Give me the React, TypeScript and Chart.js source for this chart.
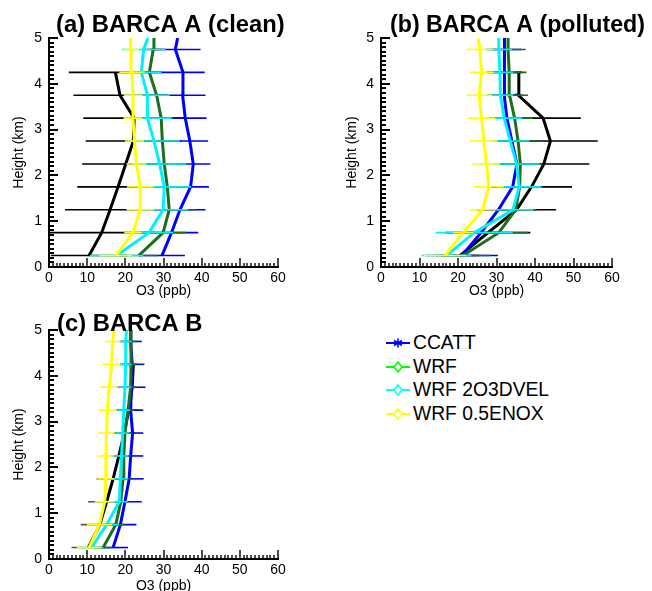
import React, { useEffect, useRef } from 'react';
import { Chart, registerables } from 'chart.js';

Chart.register(...registerables);

// ---------- data ----------
const heights = [0.25, 0.75, 1.25, 1.75, 2.25, 2.75, 3.25, 3.75, 4.25, 4.75, 5.0];
const xTickValues = [0, 10, 20, 30, 40, 50, 60];
const yTickValues = [0, 1, 2, 3, 4, 5];

const seriesNames = ['Obs', 'CCATT', 'WRF', 'WRF 2O3DVEL', 'WRF 0.5ENOX'];
const lineColors = ['#000000', '#0000ff', '#1d6f1d', '#00f0ff', '#ffff00'];
const legendColors = ['#0000ff', '#00ff00', '#00ffff', '#ffff00'];
const legendMarkers = ['star', 'diamond', 'diamond', 'diamond'];

// (a) BARCA A (clean)
const obsA = [10.5, 13.8, 16.0, 18.1, 20.1, 22.1, 22.3, 18.6, 17.4, null, null];
const obsAErr = [10, 14, 11.8, 10.7, 11.4, 12.5, 13.3, 12.2, 12.2, null, null];
const ccattA = [29.6, 32.1, 34.3, 37.1, 37.8, 36.9, 35.7, 35.0, 35.1, 33.1, 33.7];
const ccattAErr = [6, 7, 6.7, 4.8, 4.5, 4.8, 5.6, 6, 5.7, 6.6, null];
const wrfA = [23.5, 29.9, 31.5, 31.0, 30.2, 29.7, 29.4, 28.2, 26.3, 27.3, 27.5];
const wrfAErr = [5, 6.1, 6.7, 5.5, 5, 4.5, 3.1, 3, 3, 3, null];
const dvelA = [17.7, 26.2, 29.9, 30.2, 29.0, 27.5, 25.8, 25.8, 24.2, 24.8, 25.9];
const dvelAErr = [7, 6.3, 6.5, 7, 7, 6.8, 6.3, 5.8, 5.3, 5.7, null];
const enoxA = [17.5, 22.0, 23.9, 23.9, 22.9, 22.4, 22.0, 22.0, 21.7, 21.5, 21.3];
const enoxAErr = [4.3, 2.3, 3.6, 3.5, 2.6, 2.5, 2.4, 2.4, 3.3, 2.1, null];

// (b) BARCA A (polluted)
const obsB = [20.5, 27.8, 35.2, 39.1, 42.3, 44.0, 42.1, 35.7, 35.8, null, null];
const obsBErr = [5, 11, 10.3, 10.5, 11.8, 12.3, 9.8, 1, 1, null, null];
const ccattB = [21.0, 26.0, 30.5, 34.2, 35.3, 34.0, 32.7, 32.0, 32.0, 32.0, 32.2];
const ccattBErr = [9.4, 5, 4.5, 4.5, 4.5, 4.5, 4.5, 4.5, 4.5, 4.5, null];
const wrfB = [21.3, 30.6, 35.0, 36.0, 36.2, 35.6, 34.7, 33.4, 33.3, 33.0, 33.0];
const wrfBErr = [7, 7.6, 5.4, 5.5, 5.5, 5.2, 4.8, 4.8, 4.5, 4.6, null];
const dvelB = [17.0, 24.2, 34.3, 35.9, 35.2, 33.6, 32.0, 31.0, 30.9, 30.6, 30.6];
const dvelBErr = [6.5, 10, 5.2, 5.8, 6, 5, 4.7, 3.3, 3.4, 3.5, null];
const enoxB = [16.6, 21.3, 26.4, 28.0, 27.4, 26.7, 26.1, 25.5, 26.1, 25.7, 25.2];
const enoxBErr = [5.5, 2.6, 3.3, 3.9, 3.6, 3.6, 3.5, 3.3, 3.2, 3.5, null];

// (c) BARCA B
const obsC = [10.3, 13.3, 15.1, 16.8, 18.3, 19.7, 20.9, 21.8, 22.1, null, null];
const obsCErr = [4.4, 5, 4.9, 4.3, 2, 2.9, 3.2, 1, 1, null, null];
const ccattC = [16.8, 18.7, 19.9, 21.0, 21.4, 21.9, 21.4, 21.6, 21.8, 21.4, 21.4];
const ccattCErr = [3.9, 4.2, 4.4, 3.8, 3.3, 2.8, 3.3, 3.7, 3.2, 2.9, null];
const wrfC = [14.2, 17.5, 18.8, 19.4, 19.6, 19.9, 20.7, 21.4, 21.5, 21.5, 21.5];
const wrfCErr = [2.5, 2.5, 2, 2, 1.8, 1.8, 1.6, 1.6, 1.5, 1.5, null];
const dvelC = [11.2, 15.1, 18.4, 18.7, 19.0, 19.3, 19.6, 19.9, 20.1, 20.1, 20.3];
const dvelCErr = [3, 3.2, 2.2, 2, 1.8, 1.8, 1.6, 1.6, 1.5, 1.5, null];
const enoxC = [10.5, 13.2, 14.6, 14.9, 14.9, 15.1, 15.3, 15.8, 16.4, 16.7, 17.0];
const enoxCErr = [3.2, 3.3, 2.6, 2.2, 2.2, 2.2, 2.3, 2.4, 2.3, 2.0, null];

const FONT = '"Liberation Sans", Arial, Helvetica, sans-serif';

// ---------- plugins ----------
const errorBarPlugin = {
  id: 'errorBars',
  afterDatasetDraw(chart: any, args: any) {
    const ds: any = chart.data.datasets[args.index];
    if (!ds.errors) return;
    const { ctx, chartArea: a } = chart;
    const xs = chart.scales.x;
    const ys = chart.scales.y;
    ctx.save();
    ctx.beginPath();
    ctx.rect(a.left, a.top - 2, a.right - a.left, a.bottom - a.top + 4);
    ctx.clip();
    ctx.strokeStyle = ds.errorColor || ds.borderColor;
    ctx.lineWidth = 1.6;
    ds.data.forEach((p: any, i: number) => {
      const e = ds.errors[i];
      if (e == null) return;
      const y = ys.getPixelForValue(p.y);
      ctx.beginPath();
      ctx.moveTo(xs.getPixelForValue(p.x - e), y);
      ctx.lineTo(xs.getPixelForValue(p.x + e), y);
      ctx.stroke();
    });
    ctx.restore();
  },
};

const axisRulerPlugin = {
  id: 'axisRuler',
  afterDatasetsDraw(chart: any) {
    const { ctx, chartArea: a } = chart;
    const xs = chart.scales.x;
    const ys = chart.scales.y;
    ctx.save();
    ctx.fillStyle = '#000000';
    for (let i = 0; i <= 60; i++) {
      const px = Math.round(xs.getPixelForValue(i));
      const len = i % 10 === 0 ? 9 : 4;
      ctx.fillRect(px - 0.7, a.bottom - len, 1.4, len);
    }
    for (let j = 0; j <= 50; j++) {
      const py = Math.round(ys.getPixelForValue(j / 10));
      const len = j % 10 === 0 ? 9 : 5;
      ctx.fillRect(a.left - 1, py - 1, len + 1, 2);
    }
    ctx.restore();
  },
};

const panelTitlePlugin = {
  id: 'panelTitle',
  afterDraw(chart: any, _args: any, opts: any) {
    if (!opts || !opts.text) return;
    const { ctx, chartArea: a } = chart;
    ctx.save();
    ctx.font = `bold ${opts.size}px ${FONT}`;
    ctx.fillStyle = '#000';
    ctx.textAlign = 'left';
    ctx.textBaseline = 'alphabetic';
    ctx.fillText(opts.text, a.left + opts.dx, a.top + opts.dy);
    ctx.restore();
  },
};

function makeDataset(
  idx: number,
  values: (number | null)[],
  errs: (number | null)[],
  obsErrColor: string
) {
  const data: { x: number; y: number }[] = [];
  const errors: (number | null)[] = [];
  values.forEach((v, i) => {
    if (v == null) return;
    data.push({ x: v, y: heights[i] });
    errors.push(errs[i]);
  });
  return {
    label: seriesNames[idx],
    data,
    errors,
    errorColor: idx === 0 ? obsErrColor : lineColors[idx],
    borderColor: lineColors[idx],
    backgroundColor: lineColors[idx],
    borderWidth: 3,
    showLine: true,
    pointRadius: 0,
    tension: 0,
    order: 5 - idx,
  };
}

type PanelProps = {
  left: number;
  top: number;
  width: number;
  height: number;
  padTop: number;
  padRight: number;
  yWidth: number;
  xHeight: number;
  yTitlePad: number;
  xTitlePad: number;
  title: string;
  titleSize: number;
  titleDx: number;
  titleDy: number;
  obsErrColor: string;
  series: [(number | null)[], (number | null)[]][];
};

function Panel(p: PanelProps) {
  const ref = useRef<HTMLCanvasElement>(null);
  useEffect(() => {
    const tickFont = { family: FONT, size: 14 };
    const chart = new Chart(ref.current as HTMLCanvasElement, {
      type: 'scatter',
      data: {
        datasets: p.series.map(([v, e], i) => makeDataset(i, v, e, p.obsErrColor)) as any,
      },
      options: {
        animation: false,
        responsive: false,
        events: [],
        layout: { padding: { top: p.padTop, left: 0, right: p.padRight, bottom: 0 } },
        plugins: {
          legend: { display: false },
          tooltip: { enabled: false },
          panelTitle: { text: p.title, size: p.titleSize, dx: p.titleDx, dy: p.titleDy },
        } as any,
        scales: {
          x: {
            type: 'linear',
            min: 0,
            max: 60,
            afterFit: (s: any) => {
              s.height = p.xHeight;
            },
            afterBuildTicks: (s: any) => {
              s.ticks = xTickValues.map((v) => ({ value: v }));
            },
            ticks: { font: tickFont, color: '#000', padding: 3, maxRotation: 0, autoSkip: false },
            grid: { display: false, drawTicks: false },
            border: { display: true, color: '#000', width: 2 },
            title: {
              display: true,
              text: 'O3 (ppb)',
              font: tickFont,
              color: '#000',
              padding: { top: 0, bottom: p.xTitlePad },
            },
          },
          y: {
            type: 'linear',
            min: 0,
            max: 5,
            afterFit: (s: any) => {
              s.width = p.yWidth;
            },
            afterBuildTicks: (s: any) => {
              s.ticks = yTickValues.map((v) => ({ value: v }));
            },
            ticks: { font: tickFont, color: '#000', padding: 7, autoSkip: false },
            grid: { display: false, drawTicks: false },
            border: { display: true, color: '#000', width: 2 },
            title: {
              display: true,
              text: 'Height (km)',
              font: tickFont,
              color: '#000',
              padding: { top: p.yTitlePad, bottom: 0 },
            },
          },
        } as any,
      },
      plugins: [errorBarPlugin, axisRulerPlugin, panelTitlePlugin],
    });
    return () => chart.destroy();
  }, []);
  return (
    <canvas
      ref={ref}
      width={p.width}
      height={p.height}
      style={{ position: 'absolute', left: p.left, top: p.top, width: p.width, height: p.height }}
    />
  );
}

function Marker({ kind, color }: { kind: string; color: string }) {
  return (
    <svg width={24} height={14} style={{ display: 'block' }}>
      <line x1={0} y1={7} x2={24} y2={7} stroke={color} strokeWidth={2} />
      {kind === 'star' ? (
        <g stroke={color} strokeWidth={1.6}>
          <line x1={12} y1={2.5} x2={12} y2={11.5} />
          <line x1={8} y1={4.5} x2={16} y2={9.5} />
          <line x1={8} y1={9.5} x2={16} y2={4.5} />
        </g>
      ) : (
        <polygon points="12,2 16,7 12,12 8,7" fill="#fff" stroke={color} strokeWidth={1.6} />
      )}
    </svg>
  );
}

function Legend() {
  return (
    <div>
      {seriesNames.slice(1).map((name, i) => (
        <div
          key={name}
          style={{
            position: 'absolute',
            left: 386,
            top: 343 + i * 23.7 - 12,
            height: 24,
            display: 'flex',
            alignItems: 'center',
            fontFamily: FONT,
            fontSize: 19.3,
            color: '#000',
            whiteSpace: 'nowrap',
          }}
        >
          <Marker kind={legendMarkers[i]} color={legendColors[i]} />
          <span style={{ marginLeft: 3, lineHeight: '24px' }}>{name}</span>
        </div>
      ))}
    </div>
  );
}

export default function App() {
  return (
    <div
      style={{
        position: 'fixed',
        left: 0,
        top: 0,
        width: 652,
        height: 591,
        overflow: 'hidden',
        background: '#fff',
      }}
    >
      <Panel
        left={0}
        top={0}
        width={326}
        height={300}
        padTop={38}
        padRight={48}
        yWidth={49}
        xHeight={33}
        yTitlePad={10.5}
        xTitlePad={0}
        title="(a) BARCA A (clean)"
        titleSize={23.8}
        titleDx={7}
        titleDy={-6}
        obsErrColor="#000000"
        series={[
          [obsA, obsAErr],
          [ccattA, ccattAErr],
          [wrfA, wrfAErr],
          [dvelA, dvelAErr],
          [enoxA, enoxAErr],
        ]}
      />
      <Panel
        left={326}
        top={0}
        width={326}
        height={300}
        padTop={38}
        padRight={40}
        yWidth={55}
        xHeight={33}
        yTitlePad={18}
        xTitlePad={0}
        title="(b) BARCA A (polluted)"
        titleSize={23.2}
        titleDx={9}
        titleDy={-6}
        obsErrColor="#000000"
        series={[
          [obsB, obsBErr],
          [ccattB, ccattBErr],
          [wrfB, wrfBErr],
          [dvelB, dvelBErr],
          [enoxB, enoxBErr],
        ]}
      />
      <Panel
        left={0}
        top={295}
        width={326}
        height={305}
        padTop={35}
        padRight={48}
        yWidth={49}
        xHeight={41}
        yTitlePad={10.5}
        xTitlePad={5.5}
        title="(c) BARCA B"
        titleSize={23.8}
        titleDx={8}
        titleDy={1}
        obsErrColor="#555555"
        series={[
          [obsC, obsCErr],
          [ccattC, ccattCErr],
          [wrfC, wrfCErr],
          [dvelC, dvelCErr],
          [enoxC, enoxCErr],
        ]}
      />
      <Legend />
    </div>
  );
}
